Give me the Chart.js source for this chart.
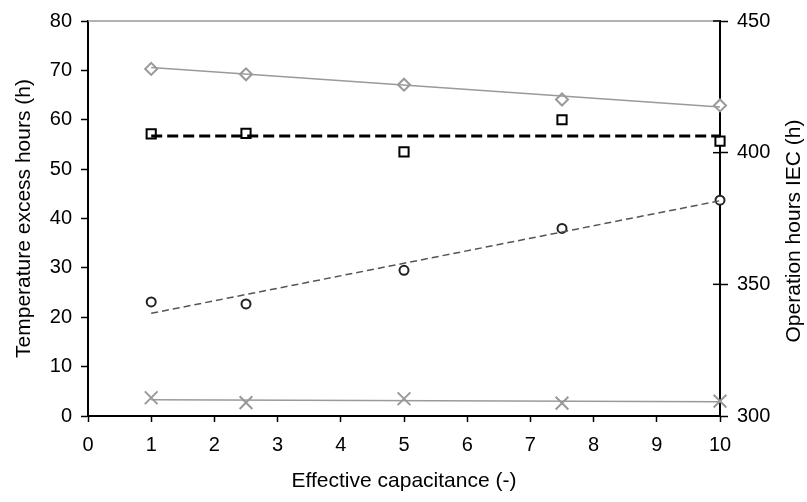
<html>

<head>
  <title>Effective capacitance</title>
  <script src="https://cdn.jsdelivr.net/npm/chart.js"></script>
  <style>
    body { margin: 0; background: #fff; }
    #wrap { width: 807px; height: 502px; }
  </style>
</head>

<body>
  <div id="wrap">
    <canvas id="capChart" width="807" height="502"></canvas>
  </div>
  <script>
    // values
    const capacitance = [1, 2.5, 5, 7.5, 10];
    const diamondHours = [70.3, 69.2, 67.1, 64.1, 62.9];
    const circleHours = [23.1, 22.7, 29.5, 38.0, 43.7];
    const crossHours = [3.7, 2.7, 3.5, 2.6, 3.0];
    const operationHours = [407.1, 407.3, 400.3, 412.5, 404.4];

    // trend lines, from x = 1 to x = 10
    const trendX = [1, 10];
    const diamondTrend = [70.6, 62.6];
    const circleTrend = [20.8, 43.6];
    const crossTrend = [3.3, 2.9];
    const operationTrend = [406.3, 406.3];

    const leftTicks = [0, 10, 20, 30, 40, 50, 60, 70, 80];
    const rightTicks = [300, 350, 400, 450];

    const pts = (xs, ys) => xs.map((x, i) => ({ x: x, y: ys[i] }));
    const family = 'Liberation Sans, Arial, sans-serif';
    const tickFont = { family: family, size: 20 };
    const titleFont = { family: family, size: 21 };

    function trend(data, color, width, dash, axis) {
      return {
        data: pts(trendX, data),
        yAxisID: axis,
        showLine: true,
        borderColor: color,
        borderWidth: width,
        borderDash: dash,
        pointRadius: 0,
        clip: false
      };
    }

    function marks(data, style, color, radius, axis) {
      return {
        data: pts(capacitance, data),
        yAxisID: axis,
        showLine: false,
        pointStyle: style,
        pointRadius: radius,
        pointBorderColor: color,
        pointBackgroundColor: '#fff',
        pointBorderWidth: 2,
        clip: false
      };
    }

    // grey frame line on top, inner half of right ticks, right title read bottom-up
    const extras = {
      id: 'extras',
      afterDraw(chart) {
        const a = chart.chartArea, c = chart.ctx;
        c.save();
        c.strokeStyle = '#999';
        c.lineWidth = 1.5;
        c.beginPath();
        c.moveTo(a.left, a.top);
        c.lineTo(a.right, a.top);
        c.stroke();
        const y2 = chart.scales.y2;
        c.strokeStyle = '#000';
        rightTicks.forEach(v => {
          const y = y2.getPixelForValue(v);
          c.beginPath();
          c.moveTo(a.right - 7, y);
          c.lineTo(a.right, y);
          c.stroke();
        });
        c.translate(794, 231);
        c.rotate(-Math.PI / 2);
        c.fillStyle = '#000';
        c.font = '21px ' + family;
        c.textAlign = 'center';
        c.textBaseline = 'middle';
        c.fillText('Operation hours IEC (h)', 0, 0);
        c.restore();
      }
    };

    new Chart(document.getElementById('capChart'), {
      type: 'scatter',
      data: {
        datasets: [
          trend(diamondTrend, '#9a9a9a', 1.5, [], 'y'),
          trend(operationTrend, '#000', 3, [11, 5], 'y2'),
          trend(circleTrend, '#555', 1.5, [7, 4], 'y'),
          trend(crossTrend, '#9a9a9a', 1.5, [], 'y'),
          marks(diamondHours, 'rectRot', '#999', 6, 'y'),
          marks(operationHours, 'rect', '#000', 6.5, 'y2'),
          marks(circleHours, 'circle', '#222', 4.5, 'y'),
          marks(crossHours, 'crossRot', '#999', 9, 'y')
        ]
      },
      options: {
        responsive: false,
        animation: false,
        layout: { padding: { top: 16, left: 0, right: 0, bottom: 0 } },
        plugins: { legend: { display: false }, tooltip: { enabled: false } },
        scales: {
          x: {
            type: 'linear',
            min: 0,
            max: 10,
            ticks: { stepSize: 1, color: '#000', font: tickFont, padding: 11, maxRotation: 0 },
            grid: { drawOnChartArea: false, color: '#000', tickLength: 6, tickWidth: 1.5 },
            border: { color: '#000', width: 2 },
            title: { display: true, text: 'Effective capacitance (-)', color: '#000', font: titleFont, padding: { top: 4, bottom: 8 } },
            afterFit(s) { s.height = 86; }
          },
          y: {
            position: 'left',
            min: 0,
            max: 80,
            afterBuildTicks(s) { s.ticks = leftTicks.map(v => ({ value: v })); },
            ticks: { color: '#000', font: tickFont, padding: 9 },
            grid: { drawOnChartArea: false, color: '#000', tickLength: 7, tickWidth: 1.5 },
            border: { color: '#000', width: 2 },
            title: { display: true, text: 'Temperature excess hours (h)', color: '#000', font: titleFont, padding: { top: 12, bottom: 0 } },
            afterFit(s) { s.width = 88; }
          },
          y2: {
            position: 'right',
            min: 300,
            max: 450,
            afterBuildTicks(s) { s.ticks = rightTicks.map(v => ({ value: v })); },
            ticks: { color: '#000', font: tickFont, padding: 9 },
            grid: { drawOnChartArea: false, color: '#000', tickLength: 8, tickWidth: 1.5 },
            border: { color: '#000', width: 2 },
            title: { display: false },
            afterFit(s) { s.width = 87; }
          }
        }
      },
      plugins: [extras]
    });
  </script>
</body>

</html>
